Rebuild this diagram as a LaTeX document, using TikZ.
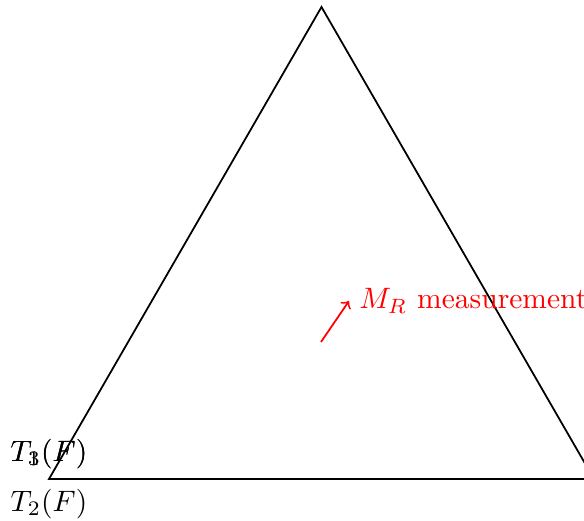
\documentclass[tikz,border=0pt]{standalone}
\begin{document}
\begin{tikzpicture}[x=0.3385pt,y=-0.3385pt,
  edge/.style={black,line width=0.6pt},
  meas/.style={red,line width=0.6pt,->},
  lbl/.style={inner sep=3.3pt}]
\useasboundingbox (0,0) rectangle (584,521);
\clip (0,0) rectangle (584,521);
\coordinate (A) at (49,479);
\coordinate (B) at (321.5,7);
\coordinate (C) at (594,479);
\draw[edge] (A) -- (B) -- (C) -- cycle;
\node[lbl,above] (t1) at (A) {$T_1(F)$};
\node[lbl,above] (t3) at (A) {$T_3(F)$};
\node[lbl,below] (t2) at (A) {$T_2(F)$};
\coordinate (m0) at (321,342);
\coordinate (m1) at (349,301);
\draw[meas] (m0) -- (m1);
\node[lbl,right,red] (mr) at (m1) {$M_R$ measurement};
\end{tikzpicture}
\end{document}
